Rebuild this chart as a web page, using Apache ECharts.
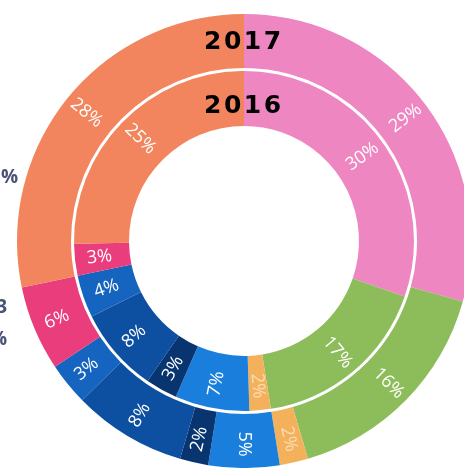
<!DOCTYPE html>
<html>
<head>
<meta charset="utf-8">
<script src="https://cdn.jsdelivr.net/npm/echarts@6/dist/echarts.min.js"></script>
<style>
    html, body { margin: 0; padding: 0; background: #fff; }
    #chart { width: 464px; height: 468px; }
</style>
</head>
<body>
<div id="chart"></div>
<script>
    // segments in clockwise order, starting at 12 o'clock
    const categories = ['Seg A', 'Seg B', 'Seg C', 'Seg D', 'Seg E', 'Seg F', 'Seg G', 'Seg H', 'Seg I'];
    const colors = ['#ee86c2', '#8dbd5a', '#f4b15c', '#1a7fdc', '#08356f', '#0d4fa0', '#1565c0', '#ea3d7b', '#f3855e'];
    const values2017 = [29, 16, 2, 5, 2, 8, 3, 6, 28];
    const values2016 = [30, 17, 2, 7, 3, 8, 4, 3, 25];
    const ringTitles = ['2017', '2016'];

    const myChart = echarts.init(document.getElementById('chart'));

    function buildData(values) {
        return values.map(function (v, i) {
            let item = { name: categories[i], value: v, itemStyle: { color: colors[i] } };
            if (i == 2) {
                item.label = { color: 'rgba(255,255,255,0.55)' };
            }
            return item;
        });
    }

    const pieLabel = {
        show: true,
        position: 'inside',
        rotate: 'radial',
        formatter: '{c}%',
        color: '#fff',
        fontFamily: 'Open Sans',
        fontSize: 18
    };

    const titleFont = 'bold 25px "DejaVu Sans"';

    myChart.setOption({
        animation: false,
        graphic: [
            {
                type: 'text', left: 204, top: 30, z: 100,
                style: { text: ringTitles[0].split('').join('\u200A'), font: titleFont, fill: '#000' }
            },
            {
                type: 'text', left: 204, top: 94, z: 100,
                style: { text: ringTitles[1].split('').join('\u200A'), font: titleFont, fill: '#000' }
            },
            // pieces of legend text cut off at the left edge
            { type: 'text', right: 464 - 18, top: 168, style: { text: '5%', font: 'bold 19px "Open Sans"', fill: '#4a5276', align: 'right' } },
            { type: 'text', right: 464 - 7, top: 298, style: { text: '3', font: 'bold 19px "Open Sans"', fill: '#4a5276', align: 'right' } },
            { type: 'text', right: 464 - 7, top: 330, style: { text: '%', font: 'bold 19px "Open Sans"', fill: '#4a5276', align: 'right' } }
        ],
        series: [{
            name: ringTitles[0],
            type: 'pie',
            center: [244, 241],
            radius: [173, 227],
            startAngle: 90,
            clockwise: true,
            silent: true,
            itemStyle: { borderWidth: 0 },
            label: pieLabel,
            labelLine: { show: false },
            data: buildData(values2017)
        }, {
            name: ringTitles[1],
            type: 'pie',
            center: [244, 241],
            radius: [115, 170],
            startAngle: 90,
            clockwise: true,
            silent: true,
            itemStyle: { borderWidth: 0 },
            label: pieLabel,
            labelLine: { show: false },
            data: buildData(values2016)
        }]
    });
</script>
</body>
</html>
